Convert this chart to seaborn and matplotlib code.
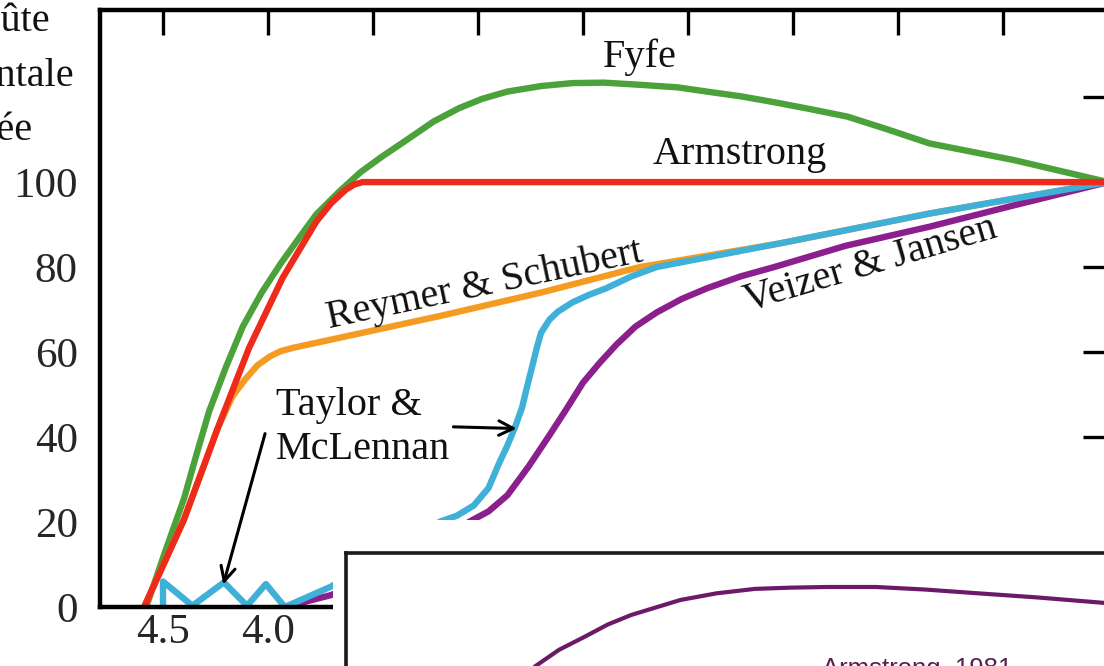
import matplotlib
matplotlib.use("Agg")
import matplotlib.pyplot as plt
import seaborn as sns
import pandas as pd
from matplotlib.patches import Rectangle

# ---------------- data (age in Ga, % of continental crust) ----------------
fyfe_age = [4.58, 4.49, 4.40, 4.34, 4.28, 4.20, 4.12, 4.03, 3.94, 3.85, 3.77, 3.66, 3.56,
            3.46, 3.37, 3.21, 3.09, 2.98, 2.86, 2.70, 2.55, 2.40, 2.23, 2.05, 1.91,
            1.75, 1.59, 1.42, 1.24, 1.05, 0.85, 0.45, 0.0]
fyfe_pct = [0, 13.0, 25.5, 36.0, 46.1, 56.5, 66.0, 74.0, 80.8, 87.0, 92.4, 97.8, 102.3,
            105.9, 108.9, 114.3, 117.4, 119.6, 121.3, 122.6, 123.3, 123.4, 122.9, 122.3, 121.3,
            120.2, 118.8, 117.2, 115.4, 112.4, 109.1, 105.2, 100]

armstrong_age = [4.59, 4.40, 4.24, 4.09, 3.93, 3.77, 3.70, 3.63, 3.59, 3.55, 0.0]
armstrong_pct = [0, 20.6, 42.0, 61.0, 77.5, 90.7, 95.0, 98.2, 99.4, 100, 100]

reymer_age = [4.59, 4.40, 4.24, 4.17, 4.11, 4.05, 3.99, 3.94, 3.88, 3.18, 2.70, 2.23,
              1.56, 0.85, 0.0]
reymer_pct = [0, 20.6, 42.0, 49.5, 53.5, 56.9, 59.0, 60.2, 61.0, 68.5, 74.0, 80.0,
              85.6, 92.6, 100]

taylor_age = [4.50, 4.50, 4.36, 4.21, 4.10, 4.01, 3.92, 3.70, 3.45, 3.18, 3.10, 3.02,
              2.95, 2.90, 2.86, 2.82, 2.79, 2.77, 2.745, 2.72, 2.70, 2.66, 2.62, 2.55,
              2.47, 2.39, 2.27, 2.15, 1.56, 0.85, 0.0]
taylor_pct = [0, 6.0, 0.3, 5.8, 0.3, 5.4, 0, 4.8, 12.0, 20.1, 21.5, 23.9,
              28.0, 33.8, 38.0, 42.8, 47.0, 51.1, 56.0, 61.0, 64.5, 67.6, 69.5, 71.7,
              73.5, 75.0, 77.8, 80.0, 85.6, 92.6, 100]

veizer_age = [3.92, 3.70, 3.35, 3.04, 2.95, 2.86, 2.76, 2.66, 2.58, 2.50, 2.42, 2.34,
              2.25, 2.15, 2.03, 1.91, 1.75, 1.59, 1.25, 0.85, 0.45, 0.0]
veizer_pct = [0, 2.8, 10.0, 20.1, 22.5, 26.3, 33.0, 40.4, 46.5, 52.8, 57.5, 61.8,
              66.0, 69.3, 72.5, 75.0, 77.8, 80.0, 85.0, 89.5, 94.5, 100]

inset_age = [3.75, 3.61, 3.50, 3.38, 3.27, 3.16, 2.93, 2.76, 2.58, 2.41, 2.24, 2.01,
             1.78, 1.55, 1.25, 0.94, 0.50]
inset_pct = [85, 94.4, 99.5, 103.6, 107.5, 110.5, 115.2, 117.3, 118.7, 119.1, 119.3, 119.3,
             118.5, 117.4, 116.0, 114.3, 111.0]

x_ticks = [4.5, 4.0, 3.5, 3.0, 2.5, 2.0, 1.5, 1.0, 0.5, 0.0]
x_ticklabels = ["4.5", "4.0", "3.5", "3.0", "2.5", "2.0", "1.5", "1.0", "0.5", ""]
y_ticks = [0, 20, 40, 60, 80, 100, 120]
y_ticklabels = ["0", "20", "40", "60", "80", "100", ""]

series = [
    ("Fyfe", fyfe_age, fyfe_pct, "#4ca23a"),
    ("Reymer & Schubert", reymer_age, reymer_pct, "#f59b22"),
    ("Veizer & Jansen", veizer_age, veizer_pct, "#8c1f8e"),
    ("Taylor & McLennan", taylor_age, taylor_pct, "#3fb0d8"),
    ("Armstrong", armstrong_age, armstrong_pct, "#ee2a1a"),
]

# ---------------- style ----------------
sns.set_theme(style="white")
plt.rcParams["font.family"] = ["Liberation Serif", "DejaVu Serif"]

W, H = 1104, 666
fig = plt.figure(figsize=(W / 100, H / 100), dpi=100)
fig.patch.set_facecolor("white")

ax = fig.add_axes([100 / W, 1 - 607 / H, 1008 / W, 597 / H])
ax.set_facecolor("white")

for name, xs, ys, col in series:
    df = pd.DataFrame({"age": xs, "pct": ys})
    sns.lineplot(data=df, x="age", y="pct", ax=ax, color=col, lw=4.6,
                 estimator=None, sort=False, solid_joinstyle="round")

ax.set_xlim(4.8, 0.0)
ax.set_ylim(0, 140.5)
ax.set_xticks(x_ticks)
ax.set_xticklabels(x_ticklabels)
ax.set_yticks(y_ticks)
ax.set_yticklabels(y_ticklabels)
ax.set_xlabel("")
ax.set_ylabel("")
for sp in ax.spines.values():
    sp.set_visible(True)
    sp.set_linewidth(3.2)
    sp.set_color("black")
ax.tick_params(axis="both", which="major", direction="in", length=18, width=2.4,
               color="black", labelsize=31, top=True, right=True)
ax.tick_params(axis="y", pad=16)
ax.tick_params(axis="x", pad=5)

# curve labels
tkw = dict(fontsize=29, color="#111111")
ax.text(2.229, 127.1, "Fyfe", ha="center", va="baseline", **tkw)
ax.text(1.752, 104.2, "Armstrong", ha="center", va="baseline", **tkw)
ax.text(2.967, 75.8, "Reymer & Schubert", ha="center", va="center",
        rotation=12, rotation_mode="anchor", **tkw)
ax.text(1.133, 80.5, "Veizer & Jansen", ha="center", va="center",
        rotation=16.5, rotation_mode="anchor", **tkw)
ax.text(3.962, 51.8, "Taylor &\nMcLennan", ha="left", va="top",
        linespacing=1.25, **tkw)

akw = dict(arrowstyle="->", color="black", lw=2.2, mutation_scale=26,
           shrinkA=0, shrinkB=0)
ax.annotate("", xy=(2.816, 42.0), xytext=(3.117, 42.4), arrowprops=akw)
ax.annotate("", xy=(4.213, 5.3), xytext=(4.014, 40.8), arrowprops=akw)

# y label (partly outside the cropped figure, as in the reference)
fig.text(-24.5 / W, 1 - 49 / H, "Proportion\nde croûte\ncontinentale\nformée",
         ha="center", va="center", multialignment="center", fontsize=29,
         color="#111111", linespacing=1.62)

# white padding of the inset picture
fig.add_artist(Rectangle((333 / W, -0.2), 1.0, (H - 520) / H + 0.2,
                         transform=fig.transFigure, facecolor="white",
                         edgecolor="none", zorder=1))

# inset
axi = fig.add_axes([346 / W, (H - 966) / H, 958 / W, 413 / H], zorder=2)
axi.set_facecolor("white")
dfi = pd.DataFrame({"age": inset_age, "pct": inset_pct})
sns.lineplot(data=dfi, x="age", y="pct", ax=axi, color="#6c1a68", lw=3.0,
             estimator=None, sort=False)
axi.set_xlim(4.5, 0.0)
axi.set_ylim(0, 130)
axi.set_xticks([])
axi.set_yticks([])
axi.set_xlabel("")
axi.set_ylabel("")
for sp in axi.spines.values():
    sp.set_visible(True)
    sp.set_linewidth(2.6)
    sp.set_color("#1a1a1a")
axi.text(0.497, 0.702, "Armstrong, 1981", transform=axi.transAxes,
         ha="left", va="baseline", fontsize=18.5, color="#5a2050",
         family=["Liberation Sans", "DejaVu Sans"])

fig.savefig("out.png", dpi=100, facecolor="white")
